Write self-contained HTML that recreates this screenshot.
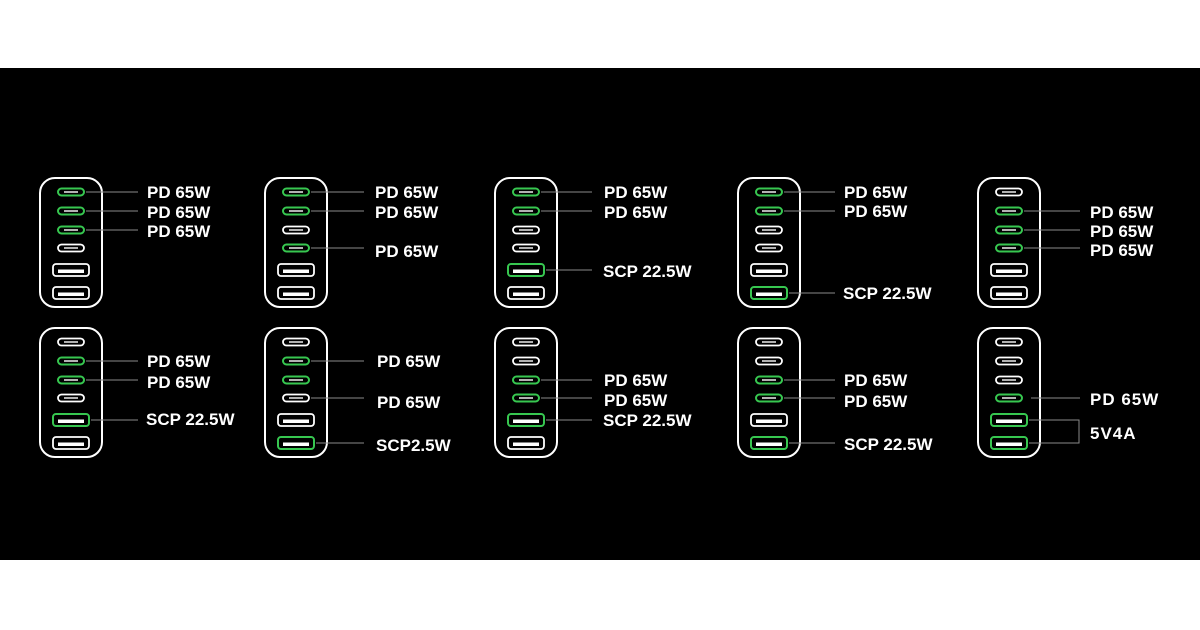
<!DOCTYPE html>
<html><head><meta charset="utf-8"><style>
html,body{margin:0;padding:0;background:#fff;width:1200px;height:630px;overflow:hidden}
svg{display:block}
text{font-family:"Liberation Sans",sans-serif;font-weight:bold;font-size:17px;fill:#fff}
.b{fill:none;stroke:#fff;stroke-width:2}
.w{fill:#000;stroke:#fff;stroke-width:1.8}
.g{fill:#000;stroke:#37c750;stroke-width:2}
.l{stroke:#8a8a8a;stroke-width:1}
.i{stroke:#fff;stroke-width:1.4}
</style></head><body>
<svg width="1200" height="630" viewBox="0 0 1200 630">
<defs>
<g id="cw"><rect class="w" x="-13" y="-3.5" width="26" height="7" rx="3.5"/><line class="i" x1="-7" y1="0" x2="7" y2="0"/></g>
<g id="cg"><rect class="g" x="-13" y="-3.5" width="26" height="7" rx="3.5"/><line class="i" x1="-7" y1="0" x2="7" y2="0"/></g>
<g id="aw"><rect class="w" x="-18" y="-6" width="36" height="12" rx="3"/><rect x="-13" y="-0.5" width="26" height="3.5" fill="#fff"/></g>
<g id="ag"><rect class="g" x="-18" y="-6" width="36" height="12" rx="3"/><rect x="-13" y="-0.5" width="26" height="3.5" fill="#fff"/></g>
<rect id="box" class="b" x="-31" y="0" width="62" height="129" rx="15"/>
</defs>
<rect x="0" y="68" width="1200" height="492" fill="#000"/>

<!-- Row 1 -->
<g transform="translate(71,178)"><use href="#box"/><use href="#cg" y="14"/><use href="#cg" y="33"/><use href="#cg" y="52"/><use href="#cw" y="70"/><use href="#aw" y="92"/><use href="#aw" y="115"/></g>
<line class="l" x1="86" y1="192" x2="138" y2="192"/><line class="l" x1="86" y1="211" x2="138" y2="211"/><line class="l" x1="86" y1="230" x2="138" y2="230"/>
<text x="147" y="198">PD 65W</text><text x="147" y="218">PD 65W</text><text x="147" y="237">PD 65W</text>

<g transform="translate(296,178)"><use href="#box"/><use href="#cg" y="14"/><use href="#cg" y="33"/><use href="#cw" y="52"/><use href="#cg" y="70"/><use href="#aw" y="92"/><use href="#aw" y="115"/></g>
<line class="l" x1="311" y1="192" x2="364" y2="192"/><line class="l" x1="311" y1="211" x2="364" y2="211"/><line class="l" x1="311" y1="248" x2="364" y2="248"/>
<text x="375" y="198">PD 65W</text><text x="375" y="218">PD 65W</text><text x="375" y="257">PD 65W</text>

<g transform="translate(526,178)"><use href="#box"/><use href="#cg" y="14"/><use href="#cg" y="33"/><use href="#cw" y="52"/><use href="#cw" y="70"/><use href="#ag" y="92"/><use href="#aw" y="115"/></g>
<line class="l" x1="541" y1="192" x2="592" y2="192"/><line class="l" x1="541" y1="211" x2="592" y2="211"/><line class="l" x1="546" y1="270" x2="592" y2="270"/>
<text x="604" y="198">PD 65W</text><text x="604" y="218">PD 65W</text><text x="603" y="277">SCP 22.5W</text>

<g transform="translate(769,178)"><use href="#box"/><use href="#cg" y="14"/><use href="#cg" y="33"/><use href="#cw" y="52"/><use href="#cw" y="70"/><use href="#aw" y="92"/><use href="#ag" y="115"/></g>
<line class="l" x1="784" y1="192" x2="835" y2="192"/><line class="l" x1="784" y1="211" x2="835" y2="211"/><line class="l" x1="789" y1="293" x2="835" y2="293"/>
<text x="844" y="198">PD 65W</text><text x="844" y="217">PD 65W</text><text x="843" y="299">SCP 22.5W</text>

<g transform="translate(1009,178)"><use href="#box"/><use href="#cw" y="14"/><use href="#cg" y="33"/><use href="#cg" y="52"/><use href="#cg" y="70"/><use href="#aw" y="92"/><use href="#aw" y="115"/></g>
<line class="l" x1="1024" y1="211" x2="1080" y2="211"/><line class="l" x1="1024" y1="230" x2="1080" y2="230"/><line class="l" x1="1024" y1="248" x2="1080" y2="248"/>
<text x="1090" y="218">PD 65W</text><text x="1090" y="237">PD 65W</text><text x="1090" y="256">PD 65W</text>

<!-- Row 2 -->
<g transform="translate(71,328)"><use href="#box"/><use href="#cw" y="14"/><use href="#cg" y="33"/><use href="#cg" y="52"/><use href="#cw" y="70"/><use href="#ag" y="92"/><use href="#aw" y="115"/></g>
<line class="l" x1="86" y1="361" x2="138" y2="361"/><line class="l" x1="86" y1="380" x2="138" y2="380"/><line class="l" x1="91" y1="420" x2="138" y2="420"/>
<text x="147" y="367">PD 65W</text><text x="147" y="388">PD 65W</text><text x="146" y="425">SCP 22.5W</text>

<g transform="translate(296,328)"><use href="#box"/><use href="#cw" y="14"/><use href="#cg" y="33"/><use href="#cg" y="52"/><use href="#cw" y="70"/><use href="#aw" y="92"/><use href="#ag" y="115"/></g>
<line class="l" x1="311" y1="361" x2="364" y2="361"/><line class="l" x1="311" y1="398" x2="364" y2="398"/><line class="l" x1="316" y1="443" x2="364" y2="443"/>
<text x="377" y="367">PD 65W</text><text x="377" y="408">PD 65W</text><text x="376" y="451">SCP2.5W</text>

<g transform="translate(526,328)"><use href="#box"/><use href="#cw" y="14"/><use href="#cw" y="33"/><use href="#cg" y="52"/><use href="#cg" y="70"/><use href="#ag" y="92"/><use href="#aw" y="115"/></g>
<line class="l" x1="541" y1="380" x2="592" y2="380"/><line class="l" x1="541" y1="398" x2="592" y2="398"/><line class="l" x1="546" y1="420" x2="592" y2="420"/>
<text x="604" y="386">PD 65W</text><text x="604" y="406">PD 65W</text><text x="603" y="426">SCP 22.5W</text>

<g transform="translate(769,328)"><use href="#box"/><use href="#cw" y="14"/><use href="#cw" y="33"/><use href="#cg" y="52"/><use href="#cg" y="70"/><use href="#aw" y="92"/><use href="#ag" y="115"/></g>
<line class="l" x1="784" y1="380" x2="835" y2="380"/><line class="l" x1="784" y1="398" x2="835" y2="398"/><line class="l" x1="789" y1="443" x2="835" y2="443"/>
<text x="844" y="386">PD 65W</text><text x="844" y="407">PD 65W</text><text x="844" y="450">SCP 22.5W</text>

<g transform="translate(1009,328)"><use href="#box"/><use href="#cw" y="14"/><use href="#cw" y="33"/><use href="#cw" y="52"/><use href="#cg" y="70"/><use href="#ag" y="92"/><use href="#ag" y="115"/></g>
<line class="l" x1="1031" y1="398" x2="1080" y2="398"/>
<polyline class="l" fill="none" points="1029,420 1079,420 1079,443 1029,443"/>
<text x="1090" y="405" style="letter-spacing:1px">PD 65W</text><text x="1090" y="439" style="letter-spacing:1px">5V4A</text>
</svg>
</body></html>
